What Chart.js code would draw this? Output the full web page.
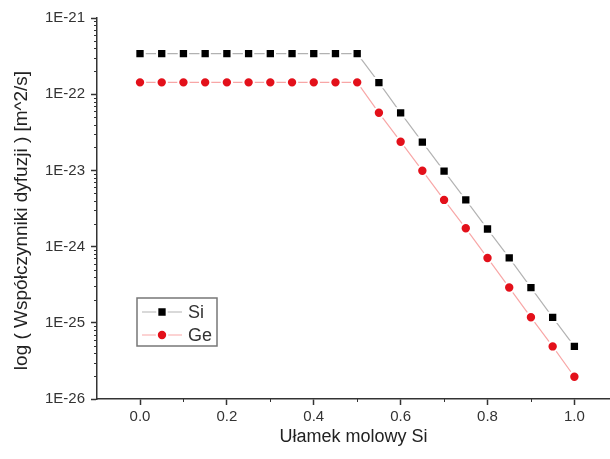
<!DOCTYPE html>
<html>
<head>
<meta charset="utf-8">
<script src="https://cdn.jsdelivr.net/npm/chart.js@4/dist/chart.umd.min.js"></script>
<style>
  body { margin: 0; background: #fff; }
  canvas { display: block; }
</style>
</head>
<body>
<canvas id="chart" width="610" height="459"></canvas>
<script>
// mole fraction of Si
const molFraction = [0, 0.05, 0.1, 0.15, 0.2, 0.25, 0.3, 0.35, 0.4, 0.45, 0.5,
  0.55, 0.6, 0.65, 0.7, 0.75, 0.8, 0.85, 0.9, 0.95, 1.0];

// diffusion coefficients [m^2/s]
const siDiffusion = [3.4e-22, 3.4e-22, 3.4e-22, 3.4e-22, 3.4e-22, 3.4e-22, 3.4e-22, 3.4e-22, 3.4e-22, 3.4e-22, 3.4e-22,
  1.42e-22, 5.7e-23, 2.35e-23, 9.8e-24, 4.1e-24, 1.7e-24, 7.1e-25, 2.9e-25, 1.18e-25, 4.9e-26];
const geDiffusion = [1.43e-22, 1.43e-22, 1.43e-22, 1.43e-22, 1.43e-22, 1.43e-22, 1.43e-22, 1.43e-22, 1.43e-22, 1.43e-22, 1.43e-22,
  5.7e-23, 2.38e-23, 9.9e-24, 4.1e-24, 1.74e-24, 7.1e-25, 2.9e-25, 1.18e-25, 4.9e-26, 1.96e-26];

const xTickValues = [0, 0.2, 0.4, 0.6, 0.8, 1.0];
const xMinorValues = [0.1, 0.3, 0.5, 0.7, 0.9];
const yTickValues = [1e-26, 1e-25, 1e-24, 1e-23, 1e-22, 1e-21];

const yTitle = 'log ( Współczynniki dyfuzji ) [m^2/s]';
const xTitle = 'Ułamek molowy Si';

const axisColor = '#333';
const textColor = '#333';
const fontFamily = '"Liberation Sans", Arial, sans-serif';

// log-scale minor ticks (2..9 in every decade)
const yMinorValues = [];
for (let e = -26; e < -21; e++) {
  for (let m = 2; m <= 9; m++) yMinorValues.push(m * Math.pow(10, e));
}

const minorTicks = {
  id: 'minorTicks',
  afterDraw(chart) {
    const { ctx, scales: { x, y } } = chart;
    ctx.save();
    ctx.strokeStyle = axisColor;
    ctx.lineWidth = 1;
    ctx.beginPath();
    yMinorValues.forEach(v => {
      const py = Math.round(y.getPixelForValue(v)) + 0.5;
      ctx.moveTo(y.right - 3, py);
      ctx.lineTo(y.right, py);
    });
    xMinorValues.forEach(v => {
      const px = Math.round(x.getPixelForValue(v)) + 0.5;
      ctx.moveTo(px, x.top);
      ctx.lineTo(px, x.top + 3);
    });
    ctx.stroke();
    ctx.restore();
  }
};

// y axis title sits a bit below the middle of the axis
const yAxisTitle = {
  id: 'yAxisTitle',
  afterDraw(chart) {
    const { ctx, scales: { y } } = chart;
    ctx.save();
    ctx.translate(22, (y.top + y.bottom) / 2 + 12);
    ctx.rotate(-Math.PI / 2);
    ctx.font = '19px ' + fontFamily;
    ctx.fillStyle = '#222';
    ctx.textAlign = 'center';
    ctx.textBaseline = 'middle';
    ctx.fillText(yTitle, 0, 0);
    ctx.restore();
  }
};

// boxed legend inside the plot, lower left
const boxLegend = {
  id: 'boxLegend',
  afterDraw(chart) {
    const { ctx } = chart;
    const box = { x: 137, y: 298, w: 80, h: 48 };
    ctx.save();
    ctx.strokeStyle = '#777';
    ctx.lineWidth = 1.5;
    ctx.strokeRect(box.x, box.y, box.w, box.h);
    ctx.font = '18px ' + fontFamily;
    ctx.textBaseline = 'middle';
    chart.data.datasets.forEach((ds, i) => {
      const cy = box.y + 14 + i * 23;
      ctx.strokeStyle = ds.borderColor;
      ctx.lineWidth = ds.borderWidth;
      ctx.beginPath();
      ctx.moveTo(box.x + 5, cy);
      ctx.lineTo(box.x + 45, cy);
      ctx.stroke();
      ctx.fillStyle = ds.pointBackgroundColor;
      ctx.strokeStyle = '#fff';
      ctx.lineWidth = ds.pointBorderWidth;
      Chart.helpers.drawPoint(ctx, {
        pointStyle: ds.pointStyle,
        radius: ds.pointRadius,
        rotation: 0,
        borderWidth: ds.pointBorderWidth
      }, box.x + 25, cy);
      ctx.fillStyle = textColor;
      ctx.fillText(ds.label, box.x + 51, cy + 1);
    });
    ctx.restore();
  }
};

const ctx = document.getElementById('chart').getContext('2d');
new Chart(ctx, {
  type: 'line',
  data: {
    datasets: [
      {
        label: 'Si',
        data: molFraction.map((x, i) => ({ x, y: siDiffusion[i] })),
        borderColor: 'rgba(0, 0, 0, 0.3)',
        borderWidth: 1.2,
        pointStyle: 'rect',
        pointRadius: 6.6,
        pointBackgroundColor: '#000',
        pointBorderColor: '#fff',
        pointBorderWidth: 2
      },
      {
        label: 'Ge',
        data: molFraction.map((x, i) => ({ x, y: geDiffusion[i] })),
        borderColor: 'rgba(235, 0, 0, 0.35)',
        borderWidth: 1.2,
        pointStyle: 'circle',
        pointRadius: 5.2,
        pointBackgroundColor: '#e3101a',
        pointBorderColor: '#fff',
        pointBorderWidth: 2
      }
    ]
  },
  options: {
    responsive: false,
    animation: false,
    layout: { autoPadding: false, padding: { top: 18, right: 0, left: 0, bottom: 0 } },
    plugins: {
      legend: { display: false },
      tooltip: { enabled: false }
    },
    scales: {
      x: {
        type: 'linear',
        min: -0.099,
        max: 1.082,
        afterBuildTicks: s => { s.ticks = xTickValues.map(v => ({ value: v })); },
        afterFit: s => { s.height = 60; s.paddingRight = 0; s.paddingLeft = 0; },
        grid: { drawOnChartArea: false, tickLength: 6, tickColor: axisColor, tickWidth: 1.5 },
        border: { color: axisColor, width: 1.5 },
        ticks: {
          callback: v => v.toFixed(1),
          color: textColor,
          font: { family: fontFamily, size: 15 },
          padding: 3,
          maxRotation: 0
        },
        title: {
          display: true,
          text: xTitle,
          color: '#222',
          font: { family: fontFamily, size: 18 },
          padding: { top: 0, bottom: 11 }
        }
      },
      y: {
        type: 'logarithmic',
        min: 1e-26,
        max: 1e-21,
        afterBuildTicks: s => { s.ticks = yTickValues.map(v => ({ value: v })); },
        afterFit: s => { s.width = 97; },
        grid: { drawOnChartArea: false, tickLength: 6, tickColor: axisColor, tickWidth: 1.5 },
        border: { color: axisColor, width: 1.5 },
        ticks: {
          callback: v => '1E' + Math.round(Math.log10(v)),
          color: textColor,
          font: { family: fontFamily, size: 15 },
          padding: 6
        }
      }
    }
  },
  plugins: [minorTicks, yAxisTitle, boxLegend]
});
</script>
</body>
</html>
